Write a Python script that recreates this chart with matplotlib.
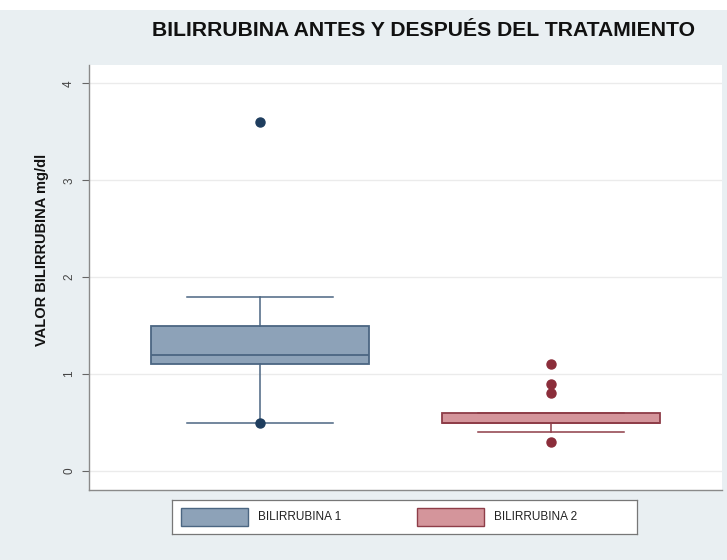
import matplotlib
matplotlib.use("Agg")
import matplotlib.pyplot as plt
from matplotlib.patches import Rectangle

plt.rcParams["font.family"] = ["Liberation Sans", "DejaVu Sans"]

# box-plot summary per measurement (mg/dl)
labels = ["BILIRRUBINA 1", "BILIRRUBINA 2"]
q1 = [1.1, 0.5]
med = [1.2, 0.5]
q3 = [1.5, 0.6]
whislo = [0.5, 0.4]
whishi = [1.8, 0.6]
outliers = [[3.6, 0.5], [1.1, 0.9, 0.8, 0.3]]

BG = "#E9EFF2"
FILLS = ["#8DA2B8", "#D4959B"]
EDGES = ["#4B6682", "#8E3D48"]
DOTS = ["#1E3D5E", "#8B2D3A"]

fig = plt.figure(figsize=(7.27, 5.6), dpi=100, facecolor=BG)
fig.patches.append(Rectangle((0, 0.982), 1, 0.018, transform=fig.transFigure,
                             facecolor="white", edgecolor="none", zorder=0))
ax = fig.add_axes([0.1224, 0.125, 0.8707, 0.759])
ax.set_facecolor("white")

for i in range(2):
    stats = [dict(q1=q1[i], med=med[i], q3=q3[i], whislo=whislo[i],
                  whishi=whishi[i], fliers=outliers[i], label=labels[i])]
    ax.bxp(stats, positions=[i + 1], widths=0.75, capwidths=0.5,
           patch_artist=True, showfliers=True,
           boxprops=dict(facecolor=FILLS[i], edgecolor=EDGES[i], linewidth=1.3),
           medianprops=dict(color=EDGES[i], linewidth=1.3),
           whiskerprops=dict(color=EDGES[i], linewidth=1.1),
           capprops=dict(color=EDGES[i], linewidth=1.1),
           flierprops=dict(marker="o", markerfacecolor=DOTS[i],
                           markeredgecolor=DOTS[i], markersize=6.5))

ax.set_xlim(0.412, 2.588)
ax.set_ylim(-0.196, 4.19)
ax.set_xticks([])
ax.set_yticks([0, 1, 2, 3, 4])
ax.set_yticklabels(["0", "1", "2", "3", "4"], rotation=90, va="center",
                   fontsize=8.5, color="#444444")
ax.tick_params(axis="y", length=5, width=0.8, color="#666666", pad=5)
ax.yaxis.grid(True, color="#EBEBEB", linewidth=1.0)
ax.set_axisbelow(True)
for side in ["top", "right"]:
    ax.spines[side].set_visible(False)
for side in ["left", "bottom"]:
    ax.spines[side].set_color("#8A8A8A")
    ax.spines[side].set_linewidth(1.0)

ax.set_ylabel("VALOR BILIRRUBINA mg/dl", fontsize=10.5, fontweight="bold",
              color="#111111", va="center")
ax.yaxis.set_label_coords(-0.074, 0.565)

fig.text(0.582, 0.946, "BILIRRUBINA ANTES Y DESPUÉS DEL TRATAMIENTO",
         ha="center", va="center", fontsize=15.2, fontweight="bold", color="#111111")

# legend panel
leg = fig.add_axes([172 / 727, 1 - 534 / 560, 465 / 727, 34 / 560])
leg.set_xlim(0, 465)
leg.set_ylim(0, 34)
leg.set_xticks([])
leg.set_yticks([])
leg.set_facecolor("white")
for s in leg.spines.values():
    s.set_color("#777777")
    s.set_linewidth(0.9)
for x0, i in [(9, 0), (245, 1)]:
    leg.add_patch(Rectangle((x0, 8), 67, 18, facecolor=FILLS[i],
                            edgecolor=EDGES[i], linewidth=1.0))
    leg.text(x0 + 77, 17, labels[i], fontsize=8.5, va="center", color="#222222")

fig.savefig("out.png", dpi=100, facecolor=BG)
